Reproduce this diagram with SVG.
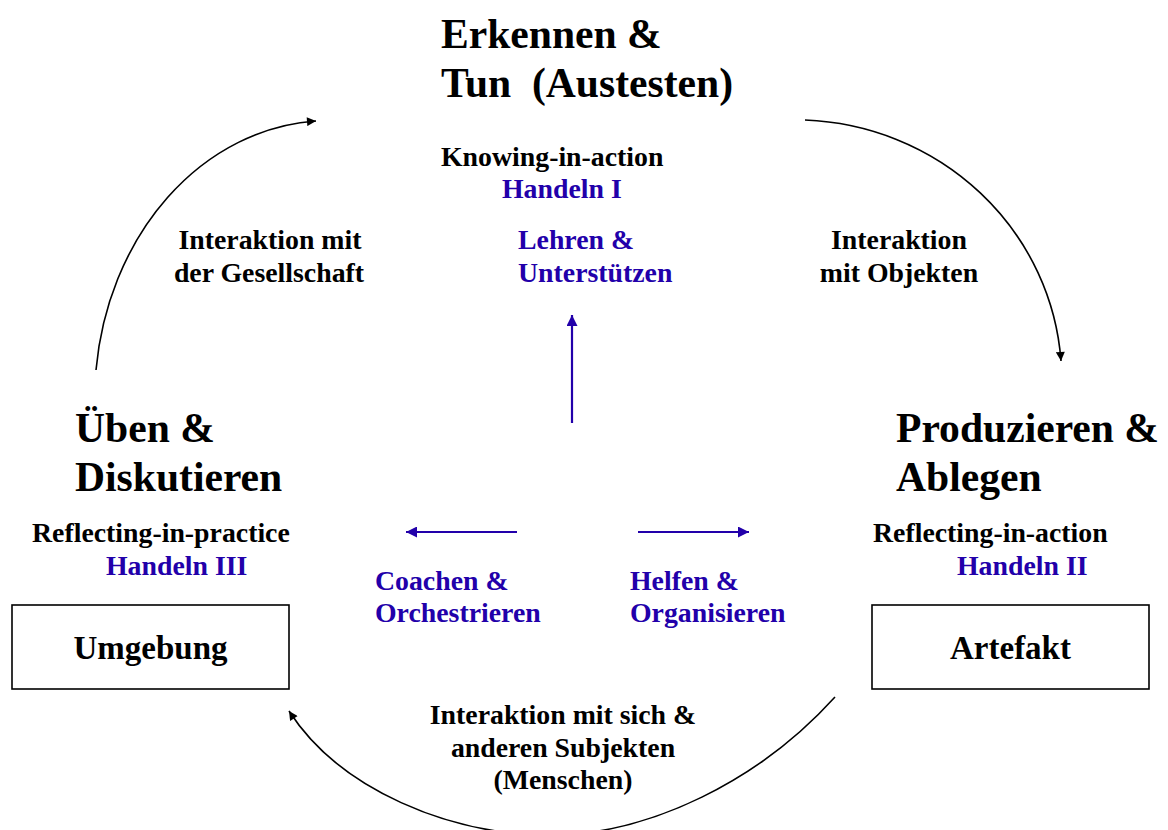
<svg xmlns="http://www.w3.org/2000/svg" width="1168" height="830" viewBox="0 0 1168 830">
<style>
text{font-family:"Liberation Serif","Times New Roman",serif;font-weight:bold;fill:#000}
.title{font-size:41.6px}
.small{font-size:27.8px}
.box{font-size:33px}
.blue{fill:#2200aa}
.mid{text-anchor:middle}
.arc{fill:none;stroke:#000;stroke-width:1.6}
.barrow{fill:none;stroke:#2200aa;stroke-width:2.2}
rect.node{fill:#fff;stroke:#000;stroke-width:1.6}
</style>
<defs>
<marker id="ak" viewBox="0 0 10 10" refX="10" refY="5" markerWidth="13" markerHeight="9" markerUnits="userSpaceOnUse" orient="auto"><path d="M0,0 L10,5 L0,10 z" fill="#000"/></marker>
<marker id="ab" viewBox="0 0 10 10" refX="10" refY="5" markerWidth="11" markerHeight="11" markerUnits="userSpaceOnUse" orient="auto"><path d="M0,0 L10,5 L0,10 z" fill="#2200aa"/></marker>
</defs>
<rect width="1168" height="830" fill="#fff"/>
<g id="connectors">
<path class="arc" d="M96,370 A235,279 0 0 1 316,121" marker-end="url(#ak)"/>
<path class="arc" d="M805,120 A267,260 0 0 1 1061,361" marker-end="url(#ak)"/>
<path class="arc" d="M835,697 C760,780 650,835 550,835 C450,835 340,790 289,711" marker-end="url(#ak)"/>
<line class="barrow" x1="572" y1="423" x2="572" y2="315" marker-end="url(#ab)"/>
<line class="barrow" x1="517" y1="532" x2="406" y2="532" marker-end="url(#ab)"/>
<line class="barrow" x1="638" y1="532" x2="749" y2="532" marker-end="url(#ab)"/>
</g>
<g id="top">
<text class="title" x="441" y="48">Erkennen &amp;</text>
<text class="title" x="441" y="97" xml:space="preserve">Tun  (Austesten)</text>
<text class="small" x="441" y="166">Knowing-in-action</text>
<text class="small blue" x="502" y="198">Handeln I</text>
</g>
<g id="teach">
<text class="small blue" x="518" y="249">Lehren &amp;</text>
<text class="small blue" x="518" y="282">Unterstützen</text>
</g>
<g id="label-society">
<text class="small mid" x="270" y="249">Interaktion mit</text>
<text class="small mid" x="269" y="282">der Gesellschaft</text>
</g>
<g id="label-objects">
<text class="small mid" x="899" y="249">Interaktion</text>
<text class="small mid" x="899" y="282">mit Objekten</text>
</g>
<g id="left">
<text class="title" x="75" y="442">Üben &amp;</text>
<text class="title" x="75" y="491">Diskutieren</text>
<text class="small" x="32" y="542">Reflecting-in-practice</text>
<text class="small blue" x="106" y="575">Handeln III</text>
</g>
<g id="right">
<text class="title" x="896" y="442">Produzieren &amp;</text>
<text class="title" x="896" y="491">Ablegen</text>
<text class="small" x="873" y="542">Reflecting-in-action</text>
<text class="small blue" x="957" y="575">Handeln II</text>
</g>
<g id="coach">
<text class="small blue" x="375" y="590">Coachen &amp;</text>
<text class="small blue" x="375" y="622">Orchestrieren</text>
</g>
<g id="help">
<text class="small blue" x="630" y="590">Helfen &amp;</text>
<text class="small blue" x="630" y="622">Organisieren</text>
</g>
<g id="umgebung">
<rect class="node" x="12" y="605" width="277" height="84"/>
<text class="box mid" x="150.5" y="659">Umgebung</text>
</g>
<g id="artefakt">
<rect class="node" x="872" y="605" width="277" height="84"/>
<text class="box mid" x="1010.5" y="659">Artefakt</text>
</g>
<g id="label-people">
<text class="small mid" x="563" y="724">Interaktion mit sich &amp;</text>
<text class="small mid" x="563" y="757">anderen Subjekten</text>
<text class="small mid" x="563" y="789">(Menschen)</text>
</g>
</svg>
